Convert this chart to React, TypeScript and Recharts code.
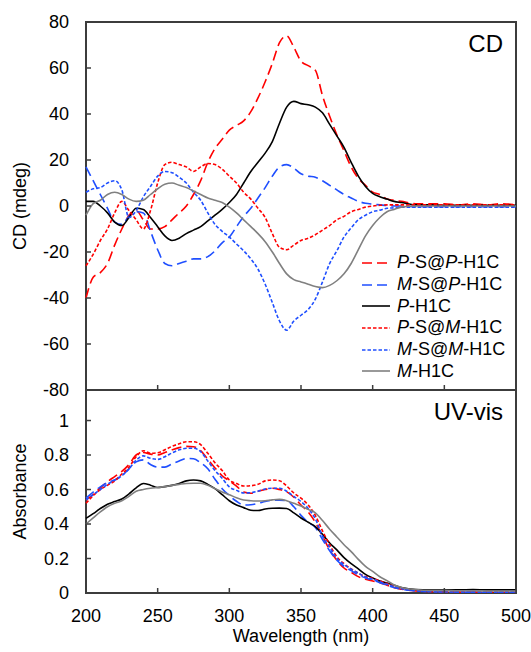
import React from "react";
import { Legend, Line, LineChart, ReferenceArea, XAxis, YAxis } from "recharts";

const wavelength = [
  200, 205, 210, 215, 220, 225, 230, 235, 240, 245, 250, 255, 260, 265, 270, 275, 280, 285, 290, 295,
  300, 305, 310, 315, 320, 325, 330, 335, 340, 345, 350, 355, 360, 365, 370, 375, 380, 385, 390, 395,
  400, 405, 410, 415, 420, 430, 440, 450, 460, 470, 480, 490, 500,
];

// CD (mdeg)
const cdPSatP = [
  -40, -31, -29, -25, -17, -10, -4, -2, -6, -10, -10, -9, -6, -3, 0, 5, 11, 19, 25, 29,
  33, 35, 37, 41, 47, 54, 62, 71, 74, 69, 63, 61, 59, 48, 39, 31, 24, 17, 12, 9,
  6, 5, 3, 2.5, 2, 1, 1, 1, 0.5, 1, 0.5, 1, 0.5,
];
const cdMSatP = [
  17, 11, 5, -1, -7, -8, -4.5, -2.5, -3, -11, -19, -25, -26, -25, -24, -23, -23, -22, -19.5, -16,
  -13.5, -9, -4.5, -1, 3.5, 8, 13, 17, 18, 16.5, 14, 13, 12.5, 11, 9, 7, 5, 3.5, 2, 1.2,
  0.8, 0.5, 0.2, 0, 0, -0.3, -0.3, -0.3, -0.3, -0.3, -0.3, -0.3, -0.3,
];
const cdPH1C = [
  2, 2, 0, -3, -7, -8.5, -5, -1, -1.5, -5, -9, -13, -15, -14, -12, -10.5, -9, -6.5, -4, -1.5,
  1.5, 5, 10, 15, 19, 23, 28, 36, 43, 45.5, 44.5, 44, 43, 40.5, 35.5, 30.5, 25.5, 19, 13, 8.5,
  5.5, 4, 3, 2, 1.5, 0.5, 0.5, 0.3, 0.3, 0.3, 0.3, 0.3, 0.3,
];
const cdPSatM = [
  -26, -21, -15, -10, -3, 2, -2, -6, -10, -2, 10, 18, 19, 18, 17, 15, 17, 18.5, 18, 16,
  13, 10, 6, 3, -1, -5, -12, -18, -19, -17, -15, -14, -12.5, -10.5, -8.5, -6, -4.5, -2.5, -1.5, -0.5,
  0, 0.3, 0.5, 0.5, 0.5, 0.5, 0.5, 0.5, 0.5, 0.5, 0.5, 0.5, 0.5,
];
const cdMSatM = [
  6, 7.5, 8, 10, 11, 7, -5, -2, 4, 8.5, 13, 15, 14.5, 12.5, 10, 6, 2.5, -3, -8, -11,
  -13.5, -16.5, -19.5, -23, -27.5, -34, -42, -50, -54, -50, -47.5, -45, -40.5, -33, -25, -19.5, -13.5, -9.5, -6, -4,
  -2.5, -1.8, -1, -0.8, -0.5, -0.5, -0.5, -0.5, -0.5, -0.5, -0.5, -0.5, -0.5,
];
const cdMH1C = [
  -4, 1, 2.5, 5, 6, 5, 3, 2, 2.5, 5, 7.5, 9.5, 10, 9, 8, 6.5, 5, 3.5, 2.5, 1.5,
  -0.5, -3, -6, -9, -12, -15.5, -20, -25, -29.5, -32, -33, -34, -35, -35.5, -34.5, -32.5, -29.5, -25, -19, -13,
  -8.5, -5, -2.5, -1.5, -0.5, 0, 0, 0, 0, 0, 0, 0, 0,
];

// UV-vis absorbance
const uvPSatP = [
  0.54, 0.57, 0.61, 0.645, 0.675, 0.705, 0.745, 0.8, 0.815, 0.805, 0.8, 0.815, 0.83, 0.843, 0.85, 0.848, 0.825, 0.775, 0.725, 0.68,
  0.65, 0.62, 0.585, 0.578, 0.59, 0.6, 0.607, 0.6, 0.587, 0.555, 0.51, 0.47, 0.41, 0.33, 0.25, 0.19, 0.145, 0.12, 0.095, 0.08,
  0.07, 0.06, 0.045, 0.03, 0.022, 0.012, 0.008, 0.006, 0.005, 0.005, 0.005, 0.004, 0.004,
];
const uvMSatP = [
  0.55, 0.585, 0.615, 0.64, 0.655, 0.68, 0.72, 0.76, 0.772, 0.745, 0.73, 0.73, 0.748, 0.765, 0.78, 0.778, 0.755, 0.72, 0.66, 0.605,
  0.565, 0.532, 0.51, 0.512, 0.52, 0.53, 0.538, 0.538, 0.535, 0.5, 0.45, 0.41, 0.38, 0.31, 0.245, 0.19, 0.155, 0.13, 0.105, 0.087,
  0.075, 0.06, 0.045, 0.032, 0.022, 0.012, 0.008, 0.006, 0.005, 0.005, 0.004, 0.004, 0.004,
];
const uvPH1C = [
  0.433, 0.46, 0.49, 0.515, 0.53, 0.545, 0.575, 0.61, 0.635, 0.625, 0.612, 0.617, 0.624, 0.635, 0.65, 0.655, 0.65, 0.63, 0.605, 0.57,
  0.535, 0.51, 0.495, 0.48, 0.478, 0.487, 0.491, 0.492, 0.49, 0.465, 0.435, 0.41, 0.385, 0.34, 0.29, 0.25, 0.205, 0.17, 0.14, 0.108,
  0.087, 0.07, 0.058, 0.045, 0.032, 0.02, 0.018, 0.018, 0.018, 0.02, 0.018, 0.018, 0.018,
];
const uvPSatM = [
  0.52, 0.565, 0.6, 0.625, 0.65, 0.69, 0.73, 0.79, 0.825, 0.81, 0.813, 0.83, 0.85, 0.865, 0.877, 0.877, 0.86, 0.81, 0.755, 0.71,
  0.655, 0.635, 0.62, 0.622, 0.63, 0.65, 0.655, 0.651, 0.62, 0.58, 0.55, 0.51, 0.45, 0.36, 0.28, 0.21, 0.17, 0.14, 0.115, 0.095,
  0.085, 0.07, 0.055, 0.04, 0.028, 0.015, 0.01, 0.008, 0.006, 0.006, 0.006, 0.006, 0.006,
];
const uvMSatM = [
  0.54, 0.57, 0.6, 0.63, 0.655, 0.68, 0.72, 0.77, 0.795, 0.781, 0.775, 0.79, 0.812, 0.83, 0.839, 0.839, 0.82, 0.765, 0.71, 0.665,
  0.615, 0.595, 0.58, 0.582, 0.59, 0.603, 0.607, 0.607, 0.59, 0.56, 0.53, 0.49, 0.43, 0.33, 0.265, 0.2, 0.165, 0.138, 0.115, 0.093,
  0.08, 0.065, 0.05, 0.036, 0.025, 0.013, 0.008, 0.006, 0.005, 0.005, 0.005, 0.005, 0.005,
];
const uvMH1C = [
  0.4, 0.435, 0.47, 0.5, 0.52, 0.535, 0.56, 0.59, 0.6, 0.607, 0.612, 0.617, 0.624, 0.63, 0.635, 0.636, 0.636, 0.625, 0.605, 0.585,
  0.57, 0.552, 0.539, 0.535, 0.533, 0.535, 0.54, 0.543, 0.535, 0.52, 0.505, 0.485, 0.465, 0.42, 0.37, 0.325, 0.28, 0.24, 0.195, 0.155,
  0.125, 0.094, 0.072, 0.046, 0.032, 0.02, 0.015, 0.015, 0.013, 0.013, 0.012, 0.012, 0.012,
];

const xTicks = [200, 250, 300, 350, 400, 450, 500];
const cdTicks = [-80, -60, -40, -20, 0, 20, 40, 60, 80];
const uvTicks = [0, 0.2, 0.4, 0.6, 0.8, 1];

const series = [
  { key: "PSatP", prefix: "P", mid: "-S@", mid2: "P", color: "#ff0000", dash: "10 5", width: 1.6 },
  { key: "MSatP", prefix: "M", mid: "-S@", mid2: "P", color: "#1f4fff", dash: "10 5", width: 1.6 },
  { key: "PH1C", prefix: "P", mid: "", mid2: "", color: "#000000", dash: undefined, width: 1.6 },
  { key: "PSatM", prefix: "P", mid: "-S@", mid2: "M", color: "#ff0000", dash: "3.5 2", width: 1.6 },
  { key: "MSatM", prefix: "M", mid: "-S@", mid2: "M", color: "#1f4fff", dash: "3.5 2", width: 1.6 },
  { key: "MH1C", prefix: "M", mid: "", mid2: "", color: "#808080", dash: undefined, width: 1.6 },
];

const cdData = wavelength.map((w, i) => ({
  w,
  PSatP: cdPSatP[i],
  MSatP: cdMSatP[i],
  PH1C: cdPH1C[i],
  PSatM: cdPSatM[i],
  MSatM: cdMSatM[i],
  MH1C: cdMH1C[i],
}));

const uvData = wavelength.map((w, i) => ({
  w,
  PSatP: uvPSatP[i],
  MSatP: uvMSatP[i],
  PH1C: uvPH1C[i],
  PSatM: uvPSatM[i],
  MSatM: uvMSatM[i],
  MH1C: uvMH1C[i],
}));

const FONT = "'Liberation Sans', Arial, sans-serif";
const AXIS = "#3c3c3c";
const tickStyle = { fill: "#000", fontSize: 18, fontFamily: FONT };

const RotLabel = ({ viewBox, text }: any) => {
  const y = viewBox.y + viewBox.height / 2;
  const x = 26;
  return (
    <text x={x} y={y} transform={`rotate(-90, ${x}, ${y})`} textAnchor="middle" fontSize={18} fontFamily={FONT} fill="#000">
      {text}
    </text>
  );
};

const LegendBox = () => (
  <div style={{ fontFamily: FONT, fontSize: 18, color: "#000" }}>
    {series.map((s) => (
      <div key={s.key} style={{ display: "flex", alignItems: "center", height: 21.7, whiteSpace: "nowrap" }}>
        <svg width={35} height={10} style={{ flex: "none" }}>
          <line x1={0} y1={5} x2={28} y2={5} stroke={s.color} strokeWidth={1.6} strokeDasharray={s.dash} />
        </svg>
        <span>
          <i>{s.prefix}</i>
          {s.mid}
          {s.mid2 && <i>{s.mid2}</i>}-H1C
        </span>
      </div>
    ))}
  </div>
);

const lines = () =>
  series.map((s) => (
    <Line
      key={s.key}
      type="monotone"
      dataKey={s.key}
      stroke={s.color}
      strokeWidth={s.width}
      strokeDasharray={s.dash}
      dot={false}
      isAnimationActive={false}
    />
  ));

export default function App() {
  return (
    <div style={{ position: "absolute", left: 0, top: 0, width: 531, height: 652, background: "#fff" }}>
      <div style={{ position: "absolute", left: 0, top: 0 }}>
        <LineChart width={531} height={652} data={uvData} margin={{ top: 390, right: 15, bottom: 9, left: 0 }}>
          <XAxis
            dataKey="w"
            type="number"
            domain={[200, 500]}
            ticks={xTicks}
            height={50}
            tickSize={-5}
            tickMargin={21}
            tickLine={{ stroke: AXIS, strokeWidth: 1.5 }}
            axisLine={false}
            tick={tickStyle}
            label={{ value: "Wavelength (nm)", position: "insideBottom", offset: 1, fontSize: 18, fontFamily: FONT, fill: "#000" }}
          />
          <YAxis
            type="number"
            domain={[0, 1.177]}
            ticks={uvTicks}
            width={86}
            tickSize={-5}
            tickMargin={22}
            tickLine={{ stroke: AXIS, strokeWidth: 1.5 }}
            axisLine={false}
            tick={tickStyle}
            label={<RotLabel text="Absorbance" />}
          />
          {lines()}
          <ReferenceArea
            x1={200}
            x2={500}
            y1={0}
            y2={1.177}
            fill="none"
            stroke={AXIS}
            strokeWidth={2}
            label={{ value: "UV-vis", position: "insideTopRight", offset: 13, fontSize: 24, fontFamily: FONT, fill: "#000" }}
          />
        </LineChart>
      </div>
      <div style={{ position: "absolute", left: 0, top: 0 }}>
        <LineChart width={531} height={420} data={cdData} margin={{ top: 22, right: 15, bottom: 0, left: 0 }}>
          <XAxis
            dataKey="w"
            type="number"
            domain={[200, 500]}
            ticks={xTicks}
            height={30}
            tickSize={-5}
            tickLine={{ stroke: AXIS, strokeWidth: 1.5 }}
            axisLine={false}
            tickFormatter={() => ""}
          />
          <YAxis
            type="number"
            domain={[-80, 80]}
            ticks={cdTicks}
            width={86}
            tickSize={-5}
            tickMargin={22}
            tickLine={{ stroke: AXIS, strokeWidth: 1.5 }}
            axisLine={false}
            tick={tickStyle}
            label={<RotLabel text="CD (mdeg)" />}
          />
          {lines()}
          <ReferenceArea
            x1={200}
            x2={500}
            y1={-80}
            y2={80}
            fill="none"
            stroke={AXIS}
            strokeWidth={2}
            label={{ value: "CD", position: "insideTopRight", offset: 13, fontSize: 24, fontFamily: FONT, fill: "#000" }}
          />
          <Legend
            layout="vertical"
            align="center"
            verticalAlign="middle"
            content={<LegendBox />}
            wrapperStyle={{ left: 362, top: 252, width: 170 }}
          />
        </LineChart>
      </div>
    </div>
  );
}
